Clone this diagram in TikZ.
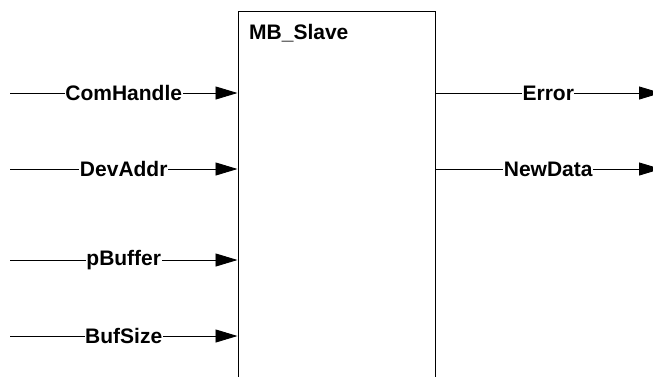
\documentclass[tikz,border=0pt]{standalone}
\usepackage{fontspec}
\setmainfont{Liberation Sans}
\usetikzlibrary{arrows.meta}
\begin{document}
\begin{tikzpicture}[x=1pt,y=-1pt,
  sig/.style={line width=0.9pt,-{Triangle[length=22pt,width=13pt]}},
  lbl/.style={fill=white,inner xsep=0.5pt,inner ysep=1pt,font=\fontsize{21}{21}\selectfont\bfseries},
  blkstyle/.style={draw,line width=1pt,minimum width=197pt,minimum height=380pt,inner sep=0pt,anchor=north west}]
\useasboundingbox (0,0) rectangle (653,376);
\clip (0,0) rectangle (653,376);
\node[blkstyle] (blk) at (237.5,10.5) {};
\node[anchor=base west,font=\fontsize{21}{21}\selectfont\bfseries,inner sep=0pt] (title) at (249,39) {MB\_Slave};
\coordinate (i1) at (10,93);
\coordinate (i2) at (10,169);
\coordinate (i3) at (10,260);
\coordinate (i4) at (10,336);
\coordinate (o1) at (661,93);
\coordinate (o2) at (661,169);
\draw[sig] (i1) -- node[lbl]{ComHandle} (blk.west |- i1);
\draw[sig] (i2) -- node[lbl]{DevAddr} (blk.west |- i2);
\draw[sig] (i3) -- node[lbl]{pBuffer} (blk.west |- i3);
\draw[sig] (i4) -- node[lbl]{BufSize} (blk.west |- i4);
\draw[sig] (blk.east |- o1) -- node[lbl]{Error} (o1);
\draw[sig] (blk.east |- o2) -- node[lbl]{NewData} (o2);
\end{tikzpicture}
\end{document}
